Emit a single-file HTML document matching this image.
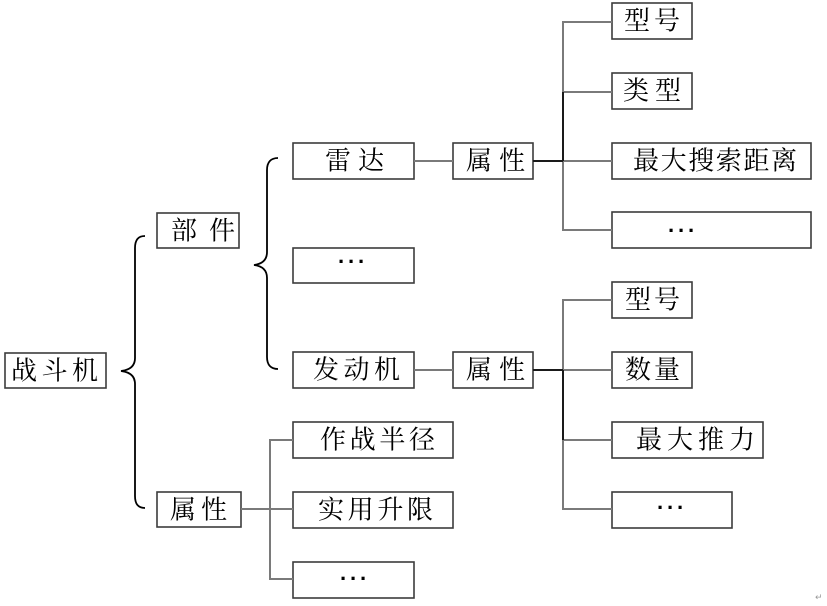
<!DOCTYPE html>
<html>
<head>
<meta charset="utf-8">
<style>
html,body{margin:0;padding:0;background:#fff;}
svg{display:block;}
text{font-family:"Liberation Serif","Noto Serif CJK SC","Noto Sans CJK SC",serif;font-size:26px;fill:#000;}
.d{font-family:"Liberation Sans",sans-serif;font-size:22px;font-weight:bold;}
</style>
</head>
<body>
<svg width="827" height="606" viewBox="0 0 827 606" xmlns="http://www.w3.org/2000/svg">
<g fill="#fff" stroke="#3c3c3c" stroke-width="1.6">
<rect x="5" y="353" width="101" height="35"/>
<rect x="157" y="213" width="82" height="35"/>
<rect x="157" y="492" width="84" height="35"/>
<rect x="293" y="143" width="121" height="36"/>
<rect x="293" y="248" width="121" height="35"/>
<rect x="293" y="352" width="121" height="36"/>
<rect x="293" y="422" width="160" height="36"/>
<rect x="293" y="492" width="160" height="36"/>
<rect x="293" y="562" width="121" height="36"/>
<rect x="453" y="143" width="80" height="36"/>
<rect x="453" y="352" width="80" height="36"/>
<rect x="612" y="3" width="80" height="36"/>
<rect x="612" y="73" width="80" height="36"/>
<rect x="612" y="143" width="199" height="36"/>
<rect x="612" y="212" width="199" height="36"/>
<rect x="612" y="282" width="80" height="36"/>
<rect x="612" y="352" width="80" height="36"/>
<rect x="612" y="422" width="151" height="36"/>
<rect x="612" y="492" width="120" height="36"/>
</g>
<g stroke="#7a7a7a" stroke-width="2" fill="none">
<line x1="414" y1="161" x2="453" y2="161"/>
<path d="M612 22 H563 V230 H612"/>
<line x1="563" y1="92" x2="612" y2="92"/>
<line x1="563" y1="161" x2="612" y2="161"/>
<line x1="414" y1="370" x2="453" y2="370"/>
<path d="M612 300 H563 V509 H612"/>
<line x1="563" y1="370" x2="612" y2="370"/>
<line x1="563" y1="440" x2="612" y2="440"/>
<path d="M293 440 H270 V579 H293"/>
<line x1="241" y1="509" x2="293" y2="509"/>
</g>
<g stroke="#1a1a1a" stroke-width="2" fill="none">
<line x1="533" y1="161" x2="563" y2="161"/>
<line x1="563" y1="92" x2="563" y2="161"/>
<line x1="533" y1="370" x2="563" y2="370"/>
<line x1="563" y1="370" x2="563" y2="440"/>
</g>
<g stroke="#000" stroke-width="1.8" fill="none">
<path d="M145 236 C138 236 135 240 135 248 V358 C135 366 130 370 121 371 C130 372 135 376 135 384 V496 C135 504 138 508 145 508"/>
<path d="M278 158 C271 158 267 162 267 170 V252 C267 260 262 264 254 265 C262 266 267 270 267 278 V357 C267 365 271 369 278 369"/>
</g>
<g dominant-baseline="central">
<text x="11" y="371" textLength="87" lengthAdjust="spacing">战斗机</text>
<text x="171" y="231" textLength="64" lengthAdjust="spacing">部件</text>
<text x="170" y="510" textLength="57" lengthAdjust="spacing">属性</text>
<text x="325" y="161" textLength="59" lengthAdjust="spacing">雷达</text>
<text x="466" y="161" textLength="59" lengthAdjust="spacing">属性</text>
<text x="313" y="370" textLength="87" lengthAdjust="spacing">发动机</text>
<text x="466" y="370" textLength="59" lengthAdjust="spacing">属性</text>
<text x="320" y="440" textLength="115" lengthAdjust="spacing">作战半径</text>
<text x="318" y="510" textLength="115" lengthAdjust="spacing">实用升限</text>
<text x="624" y="21" textLength="56" lengthAdjust="spacing">型号</text>
<text x="623" y="91" textLength="58" lengthAdjust="spacing">类型</text>
<text x="633" y="161" textLength="164" lengthAdjust="spacing">最大搜索距离</text>
<text x="625" y="300" textLength="55" lengthAdjust="spacing">型号</text>
<text x="625" y="370" textLength="55" lengthAdjust="spacing">数量</text>
<text x="636" y="440" textLength="119" lengthAdjust="spacing">最大推力</text>
</g>
<text class="d" x="338 348 358" y="269">···</text>
<text class="d" x="668 678 688" y="238">···</text>
<text class="d" x="657 667 677" y="515">···</text>
<text class="d" x="340 350 360" y="586">···</text>
<text x="815" y="600" style="font-family:'DejaVu Sans',sans-serif;font-size:9px;fill:#999">↵</text>
</svg>
</body>
</html>
